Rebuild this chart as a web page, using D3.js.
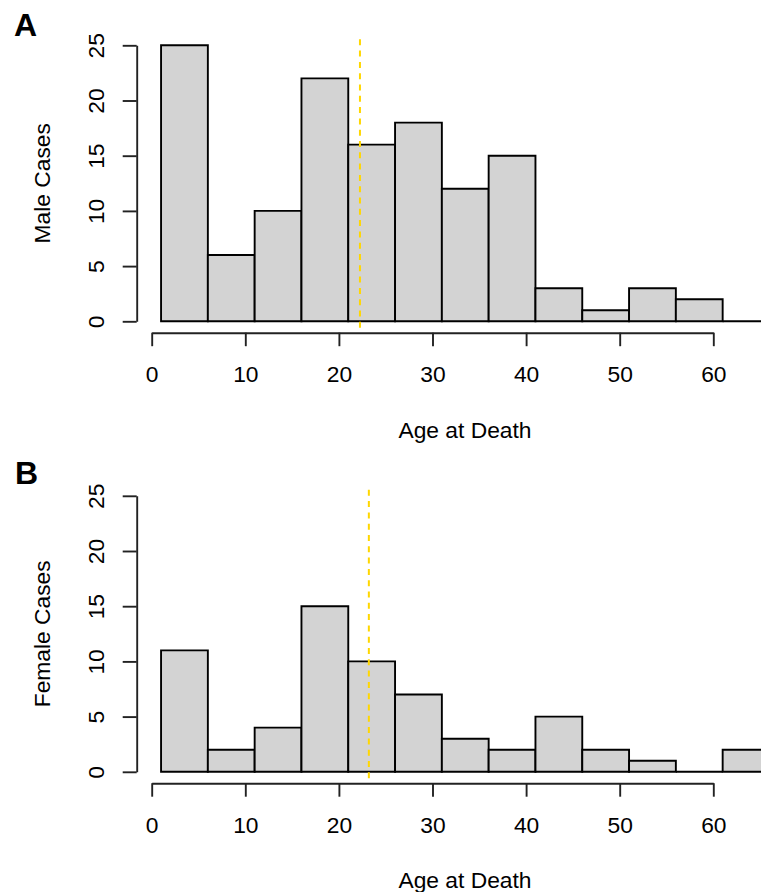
<!DOCTYPE html>
<html>
<head>
<meta charset="utf-8">
<script src="https://cdn.jsdelivr.net/npm/d3@7"></script>
<style>
  html, body { margin: 0; padding: 0; background: #fff; }
  svg { display: block; }
  text { font-family: "Liberation Sans", Arial, sans-serif; fill: #000; }
</style>
</head>
<body>
<svg id="chart" width="761" height="892"></svg>
<script>
// ---- data ----
const binBreaks = [1, 6, 11, 16, 21, 26, 31, 36, 41, 46, 51, 56, 61, 66];
const maleCounts = [25, 6, 10, 22, 16, 18, 12, 15, 3, 1, 3, 2, 0];
const femaleCounts = [11, 2, 4, 15, 10, 7, 3, 2, 5, 2, 1, 0, 2];
const xTicks = [0, 10, 20, 30, 40, 50, 60];
const yTicks = [0, 5, 10, 15, 20, 25];
const meanAges = [22.25, 23.2];
const panelLabels = ["A", "B"];
const yTitles = ["Male Cases", "Female Cases"];
const xTitle = "Age at Death";

const panels = [
  { label: panelLabels[0], title: yTitles[0], counts: maleCounts, mean: meanAges[0], dy: 0, labelY: 36, labelX: 14 },
  { label: panelLabels[1], title: yTitles[1], counts: femaleCounts, mean: meanAges[1], dy: 450.5, labelY: 483.5, labelX: 15 }
];

const svg = d3.select("#chart");
const FS = 22.8;
const x = d3.scaleLinear().domain([0, 60]).range([151.7, 713.3]);
const yBase = d3.scaleLinear().domain([0, 25]).range([321.3, 45.3]);
const axisX = 136.7, axisY = 332.7;

panels.forEach(p => {
  const g = svg.append("g").attr("transform", `translate(0,${p.dy})`);
  const y = yBase;

  // bars
  const bins = p.counts.map((c, i) => ({ x0: binBreaks[i], x1: binBreaks[i + 1], c }));
  g.append("g").selectAll("path").data(bins).join("path")
    .attr("d", d => `M${x(d.x0)},${y(0)}V${y(d.c)}H${x(d.x1)}V${y(0)}Z`)
    .attr("fill", "#D3D3D3")
    .attr("stroke", "#000")
    .attr("stroke-width", 1.9)
    .attr("stroke-linejoin", "miter");

  // mean line
  g.append("line")
    .attr("x1", x(p.mean)).attr("x2", x(p.mean))
    .attr("y1", 39.3).attr("y2", 332.3)
    .attr("stroke", "#FFD700")
    .attr("stroke-width", 2)
    .attr("stroke-dasharray", "6,5.3");

  // x axis
  const xa = g.append("g").attr("transform", `translate(0,${axisY})`)
    .call(d3.axisBottom(x).tickValues(xTicks).tickSize(13.5).tickSizeOuter(0).tickFormat(d3.format("d")));
  xa.select(".domain").attr("stroke", "#222").attr("stroke-width", 1.9);
  xa.selectAll(".tick line").attr("stroke", "#222").attr("stroke-width", 1.9);
  xa.selectAll(".tick text")
    .attr("y", 382.5 - axisY).attr("dy", 0)
    .attr("font-size", FS)
    .attr("font-family", "Liberation Sans, Arial, sans-serif")
    .attr("fill", "#000");

  // y axis
  const ya = g.append("g").attr("transform", `translate(${axisX},0)`)
    .call(d3.axisLeft(y).tickValues(yTicks).tickSize(14).tickSizeOuter(0).tickFormat(d3.format("d")));
  ya.select(".domain").attr("stroke", "#222").attr("stroke-width", 1.9);
  ya.selectAll(".tick line").attr("stroke", "#222").attr("stroke-width", 1.9);
  ya.selectAll(".tick text")
    .attr("x", null).attr("dy", null)
    .attr("transform", "translate(-32.7,0) rotate(-90)")
    .attr("text-anchor", "middle")
    .attr("font-size", FS)
    .attr("font-family", "Liberation Sans, Arial, sans-serif")
    .attr("fill", "#000");

  // titles
  g.append("text")
    .attr("transform", `translate(50,${(y(0) + y(25)) / 2}) rotate(-90)`)
    .attr("text-anchor", "middle")
    .attr("font-size", FS)
    .text(p.title);

  g.append("text")
    .attr("x", 465).attr("y", 437.5)
    .attr("text-anchor", "middle")
    .attr("font-size", FS)
    .text(xTitle);

  svg.append("text")
    .attr("x", p.labelX).attr("y", p.labelY)
    .attr("font-size", 32)
    .attr("font-weight", "bold")
    .text(p.label);
});
</script>
</body>
</html>
